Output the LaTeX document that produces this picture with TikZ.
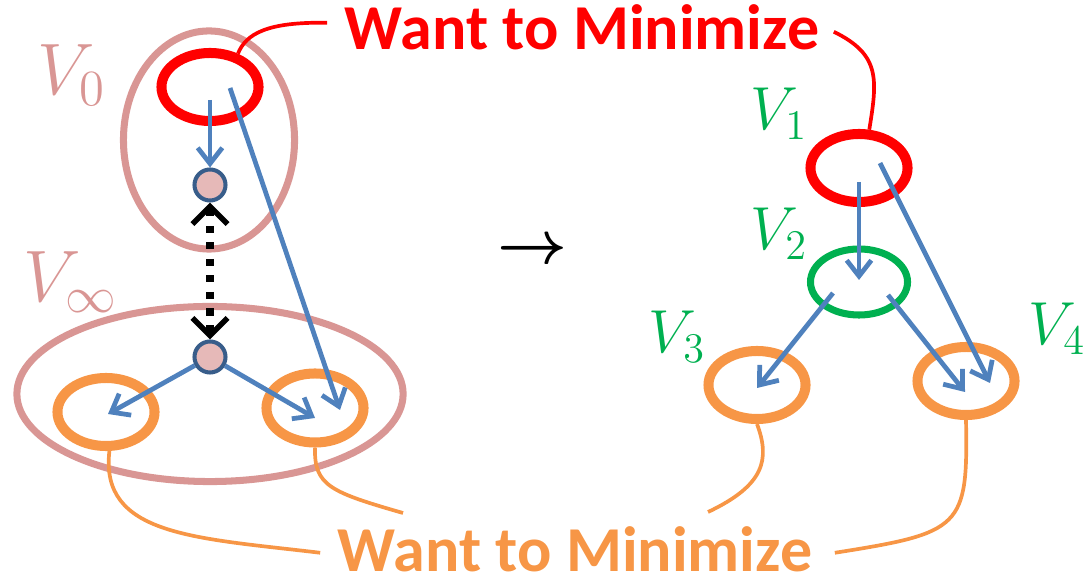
\documentclass[tikz,border=0pt]{standalone}
\usepackage{fontspec}
\newfontfamily\calibri{Carlito}
\usetikzlibrary{arrows.meta,positioning,shapes.geometric,calc}
\definecolor{setpink}{HTML}{D99694}
\definecolor{minred}{HTML}{FF0000}
\definecolor{leaforange}{HTML}{F79646}
\definecolor{leafgreen}{HTML}{00B050}
\definecolor{flowblue}{HTML}{4F81BD}
\definecolor{vtxfill}{HTML}{E6B9B8}
\definecolor{vtxline}{HTML}{385D8A}
\tikzset{
  group/.style={
    draw=setpink,
    ellipse,
    line width=2pt,
    inner sep=0pt
  },
  ring/.style={
    ellipse,
    line width=2.85pt,
    inner sep=0pt,
    minimum width=0.97cm,
    minimum height=0.68cm
  },
  vtx/.style={
    circle,
    draw=vtxline,
    fill=vtxfill,
    line width=1.15pt,
    minimum size=0.31cm,
    inner sep=0pt
  },
  setlabel/.style={
    anchor=base west,
    inner sep=0pt,
    text=setpink,
    font=\fontsize{21.7}{26}\selectfont
  },
  treelabel/.style={
    anchor=base west,
    inner sep=0pt,
    text=leafgreen,
    font=\fontsize{18}{22}\selectfont
  },
  title/.style={
    anchor=base,
    inner xsep=4pt,
    inner ysep=0pt,
    font=\calibri\bfseries\fontsize{18.2}{22}\selectfont
  },
  flow/.style={-{Straight Barb[length=4.5pt,width=7pt]}, draw=flowblue, line width=1.35pt},
  hint/.style={<->, >={Straight Barb[length=5pt,width=10pt,line width=1.6pt]}, black, line width=2pt, dash pattern=on 2pt off 2.7pt},
  lead/.style={line width=1.05pt}
}

\begin{document}
\begin{tikzpicture}[x=0.01cm, y=-0.01cm]
  \useasboundingbox (0,0) rectangle (1086,586);

  \node[group, minimum width=1.71cm, minimum height=2.18cm] (grp0) at (209,140) {};
  \node[group, minimum width=3.86cm, minimum height=1.75cm] (grpinf) at (210,394) {};
  \node[ring, draw=minred] (ring0) at (210,87) {};
  \node[vtx] (top0) at (210,185) {};
  \node[vtx] (bot0) at (210,357) {};
  \node[ring, draw=leaforange] (leafL) at (106,412) {};
  \node[ring, draw=leaforange, minimum height=0.69cm] (leafR) at (315,408) {};

  \node[setlabel] (lab0) at (37,95) {$V_0$};
  \node[setlabel] (labinf) at (23,302) {$V_\infty$};

  \node[font=\fontsize{17}{20}\selectfont\boldmath] (maps) at (532,252) {$\rightarrow$};

  \node[ring, draw=minred] (v1) at (859,168) {};
  \node[ring, draw=leafgreen, line width=2pt, minimum height=0.66cm] (v2) at (859,282) {};
  \node[ring, draw=leaforange] (v3) at (757,385) {};
  \node[ring, draw=leaforange] (v4) at (966,381) {};

  \node[treelabel] (lab1) at (750,130) {$V_1$};
  \node[treelabel] (lab2) at (750,250) {$V_2$};
  \node[treelabel] (lab3) at (648,353) {$V_3$};
  \node[treelabel] (lab4) at (1028,345) {$V_4$};

  \node[title, text=minred] (want1) at (582,50) {Want to Minimize};
  \node[title, text=leaforange] (want2) at (575,571) {Want to Minimize};

  \coordinate (out0) at ($(ring0)+(0,13)$);
  \coordinate (out0b) at ($(ring0)+(20,1)$);
  \coordinate (inL) at ($(leafL)+(2,2)$);
  \coordinate (inR) at ($(leafR)+(0,10)$);
  \coordinate (inRb) at ($(leafR)+(25,2)$);
  \coordinate (out1) at ($(v1)+(0,14)$);
  \coordinate (out1b) at ($(v1)+(21,-5)$);
  \coordinate (in2) at ($(v2)+(0,-2)$);
  \coordinate (out2a) at ($(v2)+(-26,11)$);
  \coordinate (out2b) at ($(v2)+(29,13)$);
  \coordinate (in3) at ($(v3)+(0,3)$);
  \coordinate (in4a) at ($(v4)+(-1,11)$);
  \coordinate (in4b) at ($(v4)+(24,2)$);
  \coordinate (endR) at (403,513);
  \coordinate (end3) at (708,512);

  \draw[flow] (out0) -- (top0);
  \draw[flow] (out0b) -- (inRb);
  \draw[hint] (top0) -- (bot0);
  \draw[flow] (bot0) -- (inL);
  \draw[flow] (bot0) -- (inR);

  \draw[flow] (out1) -- (in2);
  \draw[flow] (out1b) -- (in4b);
  \draw[flow] (out2a) -- (in3);
  \draw[flow] (out2b) -- (in4a);

  \draw[lead, draw=minred] (ring0.50) .. controls +(8,-20) and +(-60,-1) .. ($(want1.west)+(-3,-5)$);
  \draw[lead, draw=minred] ($(want1.east)+(0,4)$) .. controls +(47,23) and +(8,-50) .. (v1.75);

  \draw[lead, draw=leaforange] (leafL.-85) .. controls +(-10,85) and +(-125,-15) .. ($(want2.west)+(-3,4)$);
  \draw[lead, draw=leaforange] (leafR.south) .. controls +(-1,38) and +(-73,-21) .. (endR);
  \draw[lead, draw=leaforange] (v3.south) .. controls +(13,35) and +(57,-27) .. (end3);
  \draw[lead, draw=leaforange] (v4.south) .. controls +(2,108) and +(127,-20) .. ($(want2.east)+(8,4)$);
\end{tikzpicture}
\end{document}
